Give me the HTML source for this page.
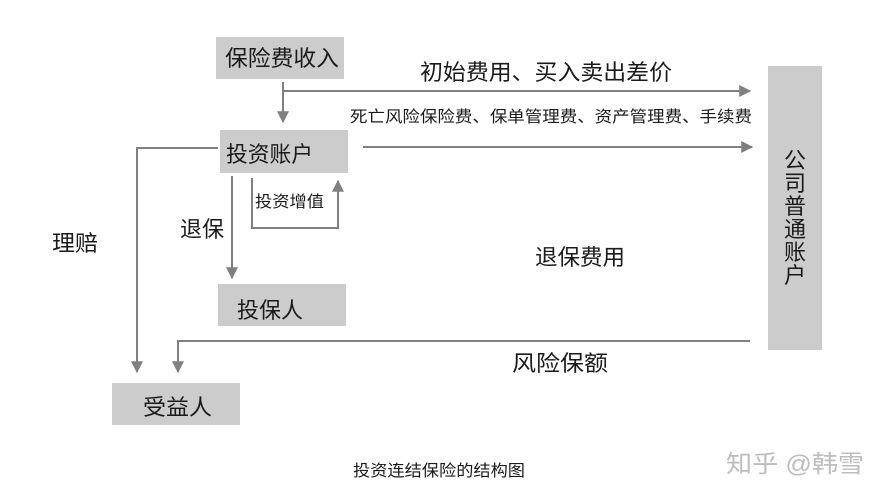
<!DOCTYPE html>
<html><head><meta charset="utf-8"><style>
html,body{margin:0;padding:0;background:#fff;}
svg{display:block;}
text{font-family:"Liberation Sans","Noto Sans CJK SC",sans-serif;fill:#1a1a1a;}
</style></head><body>
<svg width="888" height="500" viewBox="0 0 888 500" xmlns="http://www.w3.org/2000/svg">
<defs>
<marker id="b" viewBox="0 0 10 10" refX="9" refY="5" markerWidth="12" markerHeight="12" markerUnits="userSpaceOnUse" orient="auto"><path d="M0,0 L10,5 L0,10 z" fill="#808080"/></marker>
</defs>
<g fill="#cccccc">
<rect x="216" y="37" width="128" height="42"/>
<rect x="220" y="130" width="128" height="43"/>
<rect x="218" y="284" width="128" height="42"/>
<rect x="112" y="383" width="128" height="42"/>
<rect x="768" y="66" width="54" height="284"/>
</g>
<g stroke="#808080" stroke-width="2" fill="none">
<path d="M283,82 V122" marker-end="url(#b)"/>
<path d="M283,91 H750" marker-end="url(#b)"/>
<path d="M363,147 H752" marker-end="url(#b)"/>
<path d="M218,148 H137 V372" marker-end="url(#b)"/>
<path d="M232,176 V278" marker-end="url(#b)"/>
<path d="M252,178 V228 H338 V181" marker-end="url(#b)"/>
<path d="M750,341 H178 V372" marker-end="url(#b)"/>
</g>
<g font-size="22" lengthAdjust="spacingAndGlyphs">
<text x="225" y="66" textLength="114" lengthAdjust="spacingAndGlyphs">保险费收入</text>
<text x="226" y="162" textLength="87" lengthAdjust="spacingAndGlyphs">投资账户</text>
<text x="237" y="318" textLength="66" lengthAdjust="spacingAndGlyphs">投保人</text>
<text x="143" y="415" textLength="69" lengthAdjust="spacingAndGlyphs">受益人</text>
<text x="180" y="237" textLength="44" lengthAdjust="spacingAndGlyphs">退保</text>
<text x="52" y="251" textLength="46" lengthAdjust="spacingAndGlyphs">理赔</text>
<text x="420" y="80" textLength="252" lengthAdjust="spacingAndGlyphs">初始费用、买入卖出差价</text>
<text x="535" y="265" textLength="90" lengthAdjust="spacingAndGlyphs">退保费用</text>
<text x="512" y="371" textLength="96" lengthAdjust="spacingAndGlyphs">风险保额</text>
</g>
<text x="350" y="122" font-size="16" textLength="402" lengthAdjust="spacingAndGlyphs">死亡风险保险费、保单管理费、资产管理费、手续费</text>
<text x="255" y="207" font-size="16" textLength="69" lengthAdjust="spacingAndGlyphs">投资增值</text>
<g font-size="22" text-anchor="middle">
<text x="795" y="168">公</text>
<text x="795" y="191">司</text>
<text x="795" y="214">普</text>
<text x="795" y="237">通</text>
<text x="795" y="260">账</text>
<text x="795" y="283">户</text>
</g>
<text x="353" y="476" font-size="16" textLength="172" lengthAdjust="spacingAndGlyphs">投资连结保险的结构图</text>
<text x="726" y="472" font-size="24" textLength="138" lengthAdjust="spacingAndGlyphs" style="fill:#bdbdbd">知乎 @韩雪</text>
</svg>
</body></html>
